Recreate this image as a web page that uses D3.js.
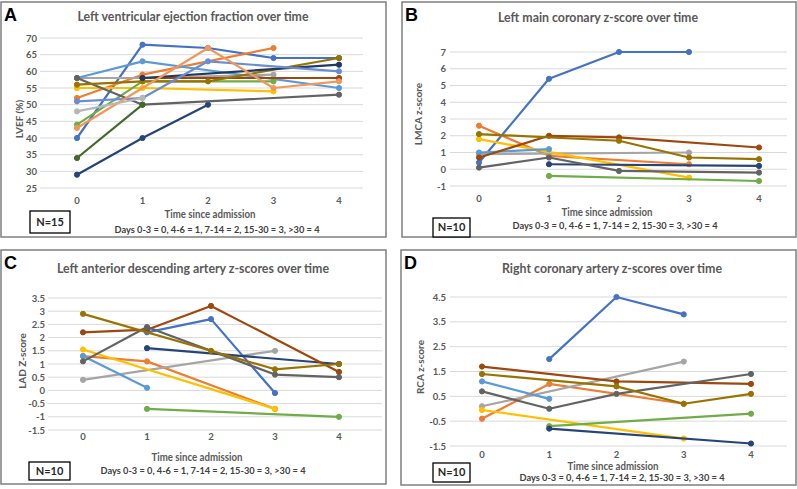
<!DOCTYPE html>
<html><head><meta charset="utf-8">
<script src="https://cdn.jsdelivr.net/npm/d3@7/dist/d3.min.js"></script>
<style>
html,body{margin:0;padding:0;background:#fff;}
svg{display:block;font-family:Lato,"Liberation Sans",Arial,sans-serif;}
</style></head>
<body>
<svg id="chart" width="797" height="489"></svg>
<script>
// ---------- DATA ----------
const timePoints = [0, 1, 2, 3, 4];
const xTickLabels = ["0", "1", "2", "3", "4"];
const xAxisTitle = "Time since admission";
const xAxisNote = "Days 0-3 = 0, 4-6 = 1, 7-14 = 2, 15-30 = 3, >30 = 4";

// Panel A: LVEF (%)
const lvefTicks = [25, 30, 35, 40, 45, 50, 55, 60, 65, 70];
const lvefSeries = [
  [40, 68, 67, 64, 64],
  [52, 59, null, 67, null],
  [58, 58, null, 59, null],
  [55, 55, null, 54, null],
  [58, 63, null, null, 55],
  [44, 57, null, 57, null],
  [29, 40, 50, null, null],
  [null, 58, null, null, 58],
  [58, 50, null, null, 53],
  [56, 57, 57, null, 64],
  [null, 58, null, null, 62],
  [34, 50, null, null, null],
  [51, 52, 63, null, 60],
  [43, null, 67, 55, 57],
  [48, 52, null, null, null]
];
const lvefColors = ["#4472C4","#ED7D31","#A5A5A5","#FFC000","#5B9BD5","#70AD47","#264478","#9E480E","#636363","#997300","#1F3864","#43682B","#698ED0","#F1975A","#B7B7B7"];

// Panel B: LMCA z-score
const lmcaTicks = [-1, 0, 1, 2, 3, 4, 5, 6, 7];
const lmcaSeries = [
  [0.4, 5.4, 7.0, 7.0, null],
  [2.6, 0.8, null, 0.3, null],
  [0.9, null, null, 1.0, null],
  [1.8, null, null, -0.5, null],
  [1.0, 1.2, null, null, null],
  [null, -0.4, null, null, -0.7],
  [null, 0.3, null, null, 0.2],
  [0.7, 2.0, 1.9, null, 1.3],
  [0.1, 0.7, -0.1, null, -0.2],
  [2.1, null, 1.7, 0.7, 0.6]
];

// Panel C: LAD z-score
const ladTicks = [-1.5, -1, -0.5, 0, 0.5, 1, 1.5, 2, 2.5, 3, 3.5];
const ladSeries = [
  [null, 2.2, 2.7, -0.1, null],
  [1.3, 1.1, null, -0.7, null],
  [0.4, null, null, 1.5, null],
  [1.55, null, null, -0.7, null],
  [1.3, 0.1, null, null, null],
  [null, -0.7, null, null, -1.0],
  [null, 1.6, null, null, 1.0],
  [2.2, 2.3, 3.2, null, 0.7],
  [1.1, 2.4, null, 0.6, 0.5],
  [2.9, null, 1.5, 0.8, 1.0]
];

// Panel D: RCA z-score
const rcaTicks = [-1.5, -0.5, 0.5, 1.5, 2.5, 3.5, 4.5];
const rcaSeries = [
  [null, 2.0, 4.5, 3.8, null],
  [-0.4, 1.0, null, 0.2, null],
  [0.1, null, null, 1.9, null],
  [-0.05, null, null, -1.2, null],
  [1.1, 0.4, null, null, null],
  [null, -0.7, null, null, -0.2],
  [null, -0.8, null, null, -1.4],
  [1.7, null, 1.1, null, 1.0],
  [0.7, 0.0, 0.6, null, 1.4],
  [1.4, null, 0.9, 0.2, 0.6]
];
const tenColors = ["#4472C4","#ED7D31","#A5A5A5","#FFC000","#5B9BD5","#70AD47","#264478","#9E480E","#636363","#997300"];

// ---------- LAYOUT ----------
const panels = [
  { letter:"A", title:"Left ventricular ejection fraction over time", titleW:231, titleX:193, yLabel:"LVEF (%)", n:"N=15",
    series:lvefSeries, colors:lvefColors, ticks:lvefTicks,
    frame:[1,2,385,235], xr:[77,339], yd:[25,70], yr:[188,38], grid:[40,363], yLabX:37,
    xTickY:204, titleY:21, axT:[210,218,91], axN:[217,233,205], nBox:[30,211,40,22], yLab:[19,119] },
  { letter:"B", title:"Left main coronary z-score over time", titleW:200, titleX:598, yLabel:"LMCA z-score", n:"N=10",
    series:lmcaSeries, colors:tenColors, ticks:lmcaTicks,
    frame:[402,2,394,235], xr:[479,759], yd:[-1,7], yr:[186,52], grid:[450,787], yLabX:446,
    xTickY:202, titleY:22, axT:[607,216,91], axN:[615,229,205], nBox:[433,218,37,19], yLab:[418,114] },
  { letter:"C", title:"Left anterior descending artery z-scores over time", titleW:272, titleX:193, yLabel:"LAD Z-score", n:"N=10",
    series:ladSeries, colors:tenColors, ticks:ladTicks,
    frame:[1,250,385,234], xr:[83,339], yd:[-1.5,3.5], yr:[430,298], grid:[48,382], yLabX:45,
    xTickY:440, titleY:273, axT:[197,461,91], axN:[203,474,205], nBox:[29,462,41,18], yLab:[22,361] },
  { letter:"D", title:"Right coronary artery z-scores over time", titleW:220, titleX:612, yLabel:"RCA z-score", n:"N=10",
    series:rcaSeries, colors:tenColors, ticks:rcaTicks,
    frame:[401,250,395,235], xr:[482,751], yd:[-1.5,4.5], yr:[446,297], grid:[450,787], yLabX:446,
    xTickY:458, titleY:273, axT:[613,470,91], axN:[622,481,205], nBox:[433,463,37,19], yLab:[420,367] }
];

const svg = d3.select("#chart");
const textCol = "#595959";

panels.forEach(p => {
  const g = svg.append("g");
  const x = d3.scaleLinear().domain([0, 4]).range(p.xr);
  const y = d3.scaleLinear().domain(p.yd).range(p.yr);

  // frame
  g.append("rect").attr("x", p.frame[0]).attr("y", p.frame[1])
    .attr("width", p.frame[2]).attr("height", p.frame[3])
    .attr("fill", "#fff").attr("stroke", "#7f7f7f").attr("stroke-width", 1.5);

  // gridlines
  g.selectAll(".grid").data(p.ticks).join("line")
    .attr("x1", p.grid[0]).attr("x2", p.grid[1])
    .attr("y1", d => y(d)).attr("y2", d => y(d))
    .attr("stroke", "#d9d9d9").attr("stroke-width", 1);

  // y tick labels
  g.selectAll(".ytl").data(p.ticks).join("text")
    .attr("x", p.yLabX).attr("y", d => y(d) + 3.5)
    .attr("text-anchor", "end").attr("font-size", 9.5).attr("font-weight", "bold")
    .attr("fill", textCol).text(d => String(d));

  // x tick labels
  g.selectAll(".xtl").data(timePoints).join("text")
    .attr("x", d => x(d)).attr("y", p.xTickY)
    .attr("text-anchor", "middle").attr("font-size", 9.5).attr("font-weight", "bold")
    .attr("fill", textCol).text((d, i) => xTickLabels[i]);

  // series
  const line = d3.line().x(d => x(d.t)).y(d => y(d.v));
  p.series.forEach((vals, si) => {
    const pts = vals.map((v, i) => ({ t: timePoints[i], v })).filter(d => d.v !== null);
    const col = p.colors[si];
    g.append("path").datum(pts).attr("d", line)
      .attr("fill", "none").attr("stroke", col).attr("stroke-width", 2.2)
      .attr("stroke-linejoin", "round");
    g.selectAll(null).data(pts).join("circle")
      .attr("cx", d => x(d.t)).attr("cy", d => y(d.v)).attr("r", 2.6)
      .attr("fill", col).attr("stroke", col);
  });

  // title
  g.append("text").attr("x", p.titleX)
    .attr("y", p.titleY).attr("text-anchor", "middle")
    .attr("font-size", 12.5).attr("font-weight", "bold").attr("fill", textCol)
    .attr("textLength", p.titleW).attr("lengthAdjust", "spacingAndGlyphs").text(p.title);

  // letter
  g.append("text").attr("x", p.frame[0] + 3).attr("y", p.frame[1] + 19)
    .attr("font-size", 18).attr("font-weight", "bold").attr("fill", "#000")
    .attr("font-family", "'Liberation Sans',Arial,sans-serif").text(p.letter);

  // axis titles
  g.append("text").attr("x", p.axT[0]).attr("y", p.axT[1]).attr("text-anchor", "middle")
    .attr("font-size", 10.5).attr("font-weight", "bold").attr("fill", textCol)
    .attr("textLength", p.axT[2]).attr("lengthAdjust", "spacingAndGlyphs").text(xAxisTitle);
  g.append("text").attr("x", p.axN[0]).attr("y", p.axN[1]).attr("text-anchor", "middle")
    .attr("font-size", 10).attr("font-weight", "bold").attr("fill", "#404040")
    .attr("textLength", p.axN[2]).attr("lengthAdjust", "spacingAndGlyphs").text(xAxisNote);

  // y axis title
  g.append("text").attr("transform", `translate(${p.yLab[0]},${p.yLab[1]}) rotate(-90)`)
    .attr("text-anchor", "middle").attr("dy", "0.35em")
    .attr("font-size", 10).attr("font-weight", "bold").attr("fill", textCol).text(p.yLabel);

  // N box
  g.append("rect").attr("x", p.nBox[0]).attr("y", p.nBox[1]).attr("width", p.nBox[2]).attr("height", p.nBox[3])
    .attr("fill", "#fff").attr("stroke", "#000").attr("stroke-width", 1.3);
  g.append("text").attr("x", p.nBox[0] + p.nBox[2]/2).attr("y", p.nBox[1] + p.nBox[3]/2).attr("dy", "0.36em")
    .attr("text-anchor", "middle").attr("font-size", 11).attr("font-weight", "bold").attr("fill", "#262626")
    .text(p.n);
});
</script>
</body></html>
